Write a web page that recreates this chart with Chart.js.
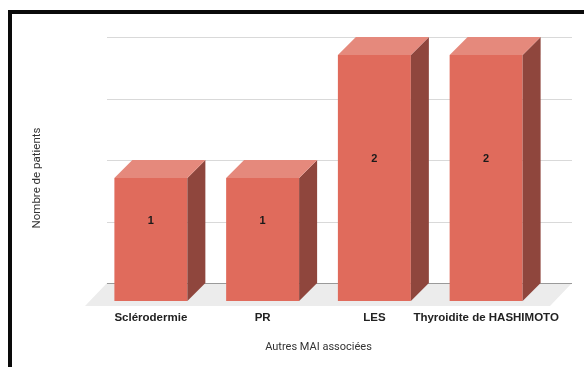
<!DOCTYPE html>
<html>
<head>
<meta charset="utf-8">
<script src="https://cdn.jsdelivr.net/npm/chart.js@4.4.1/dist/chart.umd.min.js"></script>
<style>
  html, body { margin: 0; padding: 0; background: #ffffff; }
  canvas { display: block; }
</style>
</head>
<body>
<canvas id="chart" width="584" height="367"></canvas>
<script>
// Data
const categories = ['Sclérodermie', 'PR', 'LES', 'Thyroidite de HASHIMOTO'];
const patients = [1, 1, 2, 2];
const yTickValues = [0, 0.5, 1, 1.5, 2];
const xAxisTitle = 'Autres MAI associées';
const yAxisTitle = 'Nombre de patients';

// Look of the 3D boxes
const DEPTH = 18;
const COLORS = {
  front: '#e06b5c',
  top: '#e5897c',
  side: '#8f463d',
  floor: '#ececec',
  grid: '#d9d9d9',
  base: '#9a9a9a',
  frame: '#0a0a0a'
};
const LABEL_FONT = '"Liberation Sans", Arial, sans-serif';

function poly(ctx, pts, color) {
  ctx.beginPath();
  ctx.moveTo(pts[0][0], pts[0][1]);
  for (let i = 1; i < pts.length; i++) ctx.lineTo(pts[i][0], pts[i][1]);
  ctx.closePath();
  ctx.fillStyle = color;
  ctx.fill();
}

const box3d = {
  id: 'box3d',
  beforeDraw(chart) {
    // black frame along the top and left edges
    const ctx = chart.ctx;
    ctx.save();
    ctx.fillStyle = COLORS.frame;
    ctx.fillRect(8, 10, chart.width - 8, 4);
    ctx.fillRect(8, 10, 4, chart.height - 10);
    ctx.restore();
  },
  beforeDatasetsDraw(chart) {
    const ctx = chart.ctx;
    const area = chart.chartArea;
    const yScale = chart.scales.y;
    const backLeft = area.left + 12;
    const backRight = area.right + 30;
    ctx.save();
    // gridlines on the back wall
    ctx.strokeStyle = COLORS.grid;
    ctx.lineWidth = 1;
    yScale.ticks.forEach(t => {
      if (t.value === 0) return;
      const y = Math.round(yScale.getPixelForValue(t.value) - DEPTH) + 0.5;
      ctx.beginPath();
      ctx.moveTo(backLeft, y);
      ctx.lineTo(backRight, y);
      ctx.stroke();
    });
    // floor
    const yBack = yScale.getPixelForValue(0) - DEPTH;
    const yFront = yBack + 23;
    poly(ctx, [[backLeft, yBack], [backRight, yBack], [backRight - 22, yFront], [backLeft - 22, yFront]], COLORS.floor);
    ctx.strokeStyle = COLORS.base;
    ctx.beginPath();
    ctx.moveTo(backLeft, Math.round(yBack) + 0.5);
    ctx.lineTo(backRight, Math.round(yBack) + 0.5);
    ctx.stroke();
    ctx.restore();
  },
  afterDatasetsDraw(chart) {
    const ctx = chart.ctx;
    const yScale = chart.scales.y;
    const meta = chart.getDatasetMeta(0);
    ctx.save();
    meta.data.forEach((bar, i) => {
      const half = bar.width / 2;
      const l = bar.x - half, r = bar.x + half;
      const top = bar.y, base = bar.base;
      // right side face
      poly(ctx, [[r, top], [r + DEPTH, top - DEPTH], [r + DEPTH, base - DEPTH], [r, base]], COLORS.side);
      // top face
      poly(ctx, [[l, top], [l + DEPTH, top - DEPTH], [r + DEPTH, top - DEPTH], [r, top]], COLORS.top);
      // value label
      const v = patients[i];
      ctx.fillStyle = '#1a1a1a';
      ctx.font = 'bold 11px ' + LABEL_FONT;
      ctx.textAlign = 'center';
      ctx.textBaseline = 'middle';
      ctx.fillText(String(v), bar.x, yScale.getPixelForValue(v / 2) - DEPTH - 1);
    });
    ctx.restore();
  }
};

new Chart(document.getElementById('chart'), {
  type: 'bar',
  data: {
    labels: categories,
    datasets: [{
      data: patients,
      backgroundColor: COLORS.front,
      borderWidth: 0,
      categoryPercentage: 1,
      barPercentage: 0.653,
      clip: false
    }]
  },
  plugins: [box3d],
  options: {
    responsive: false,
    devicePixelRatio: 1,
    animation: false,
    layout: { padding: { top: 55, left: 0, right: 42, bottom: 0 } },
    plugins: {
      legend: { display: false },
      tooltip: { enabled: false }
    },
    scales: {
      x: {
        grid: { display: false, drawTicks: false },
        border: { display: false },
        ticks: {
          padding: 10,
          color: '#222222',
          autoSkip: false,
          maxRotation: 0,
          font: { family: LABEL_FONT, size: 11.5, weight: 'bold' }
        },
        title: {
          display: true,
          text: xAxisTitle,
          color: '#333333',
          font: { family: 'Roboto', size: 11 },
          padding: { top: 5.6, bottom: 13.4 }
        }
      },
      y: {
        min: 0,
        max: 2,
        afterBuildTicks(scale) {
          scale.ticks = yTickValues.map(v => ({ value: v }));
        },
        grid: { display: false, drawTicks: false },
        border: { display: false },
        ticks: { display: false },
        title: {
          display: true,
          text: yAxisTitle,
          color: '#333333',
          font: { family: 'Roboto', size: 11.5 },
          padding: { top: 30.1, bottom: 51.1 }
        }
      }
    }
  }
});
</script>
</body>
</html>
